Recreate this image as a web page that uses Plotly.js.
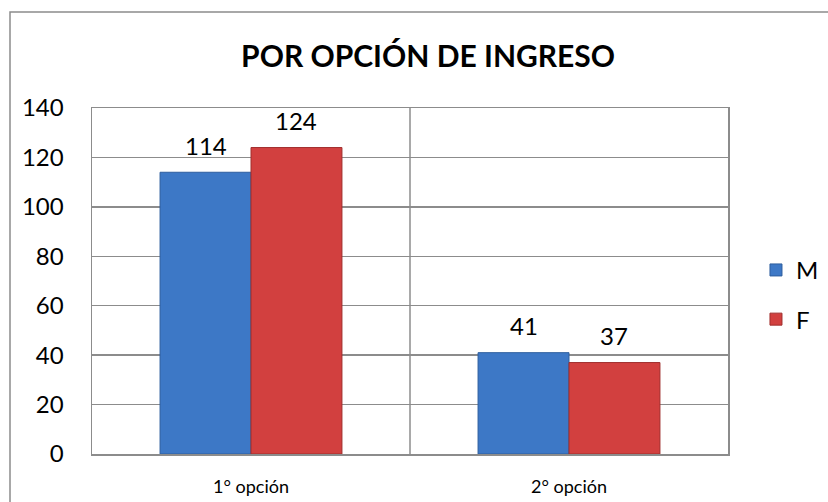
<!DOCTYPE html>
<html>
<head>
<meta charset="utf-8">
<script src="https://cdn.plot.ly/plotly-3.0.1.min.js"></script>
<style>html,body{margin:0;padding:0;background:#fff;}#chart{width:828px;height:502px;}</style>
</head>
<body>
<div id="chart"></div>
<script>
const categories = ["1° opción", "2° opción"];
const seriesNames = ["M", "F"];
const valuesM = [114, 41];
const valuesF = [124, 37];
const yTicks = [0, 20, 40, 60, 80, 100, 120, 140];

const FONT = "Lato, 'Open Sans', sans-serif";
const plotL = 92, plotR = 100, plotT = 108, plotB = 48;
const plotW = 828 - plotL - plotR;
const bargap = 0.428;
const barW = plotW / categories.length * (1 - bargap) / 2;

const traces = [
  {type: "bar", name: seriesNames[0], x: categories, y: valuesM, legendgroup: "m",
   marker: {color: "#3D78C6", line: {color: "#2E5E9E", width: 1}}, hoverinfo: "skip"},
  {type: "bar", name: seriesNames[1], x: categories, y: valuesF, legendgroup: "f",
   marker: {color: "#D2403F", line: {color: "#A02E2D", width: 1}}, hoverinfo: "skip"}
];

const annotations = [];
[valuesM, valuesF].forEach((vals, s) => {
  vals.forEach((v, i) => {
    annotations.push({x: categories[i], y: v, xref: "x", yref: "y", text: String(v),
      showarrow: false, xshift: (s === 0 ? -1 : 1) * barW / 2, yshift: 27,
      font: {family: FONT, size: 24, color: "#000"}});
  });
});

const layout = {
  width: 828, height: 502,
  margin: {l: plotL, r: plotR, t: plotT, b: plotB, autoexpand: false},
  paper_bgcolor: "#fff", plot_bgcolor: "#fff",
  title: {text: "<b>POR OPCIÓN DE INGRESO</b>", font: {family: FONT, size: 30, color: "#000"},
    x: 0.517, xanchor: "center", y: 0.888, yanchor: "middle"},
  barmode: "group", bargap: bargap, bargroupgap: 0,
  showlegend: true,
  legend: {x: 1.044, xanchor: "left", y: 0.46, yanchor: "middle",
    font: {family: FONT, size: 24, color: "#000"}, traceorder: "grouped", tracegroupgap: 15,
    bgcolor: "rgba(0,0,0,0)"},
  xaxis: {type: "category", showgrid: false, showline: true, mirror: true, linecolor: "#8c8c8c", linewidth: 1.5,
    ticks: "outside", ticklen: 16, tickcolor: "rgba(0,0,0,0)",
    tickfont: {family: FONT, size: 18, color: "#000"}, fixedrange: true},
  yaxis: {range: [0, 140], tickvals: yTicks, showgrid: true, gridcolor: "#8c8c8c", gridwidth: 1.5,
    showline: true, mirror: true, linecolor: "#8c8c8c", linewidth: 1.5, zeroline: false,
    ticks: "outside", ticklen: 22, tickcolor: "rgba(0,0,0,0)",
    tickfont: {family: FONT, size: 24, color: "#000"}, fixedrange: true},
  shapes: [
    {type: "line", xref: "x", yref: "paper", x0: 0.5, x1: 0.5, y0: 0, y1: 1,
     line: {color: "#8c8c8c", width: 1.5}},
    {type: "rect", xref: "paper", yref: "paper",
     x0: (10 - plotL) / plotW, x1: (840 - plotL) / plotW,
     y0: (502 - plotB - 520) / (502 - plotT - plotB), y1: (502 - plotB - 12) / (502 - plotT - plotB),
     line: {color: "#8c8c8c", width: 1.5}, layer: "below"}
  ],
  annotations: annotations
};

Plotly.newPlot("chart", traces, layout, {staticPlot: true, displayModeBar: false});
</script>
</body>
</html>
